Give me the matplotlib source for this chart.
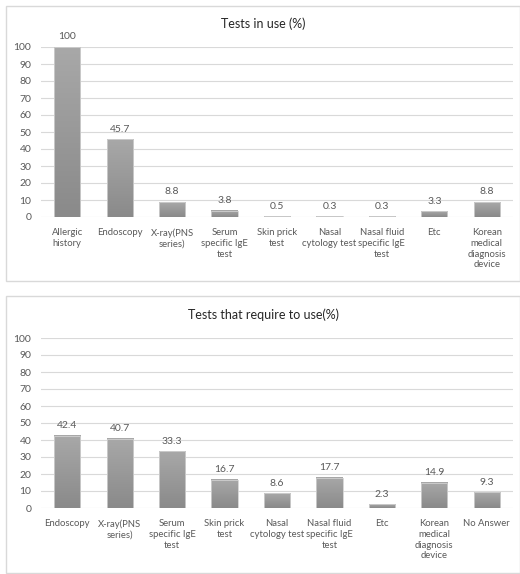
import numpy as np
import matplotlib.pyplot as plt
from matplotlib.patches import Rectangle
from matplotlib.colors import LinearSegmentedColormap

plt.rcParams['font.family'] = ['Lato', 'DejaVu Sans']

# Tests currently in use
use_labels = ['Allergic\nhistory', 'Endoscopy', 'X-ray(PNS\nseries)',
              'Serum\nspecific IgE\ntest', 'Skin prick\ntest',
              'Nasal\ncytology test', 'Nasal fluid\nspecific IgE\ntest',
              'Etc', 'Korean\nmedical\ndiagnosis\ndevice']
use_values = [100, 45.7, 8.8, 3.8, 0.5, 0.3, 0.3, 3.3, 8.8]

# Tests that respondents would like to use
req_labels = ['Endoscopy', 'X-ray(PNS\nseries)', 'Serum\nspecific IgE\ntest',
              'Skin prick\ntest', 'Nasal\ncytology test',
              'Nasal fluid\nspecific IgE\ntest', 'Etc',
              'Korean\nmedical\ndiagnosis\ndevice', 'No Answer']
req_values = [42.4, 40.7, 33.3, 16.7, 8.6, 17.7, 2.3, 14.9, 9.3]

yticks = list(range(0, 101, 10))

W, H = 520, 574
fig = plt.figure(figsize=(W / 100, H / 100), dpi=100)

text_col = '#595959'
grid_col = '#d9d9d9'
grad = LinearSegmentedColormap.from_list('bar', ['#8a8a8a', '#a8a8a8'])
ramp = np.linspace(0, 1, 64).reshape(-1, 1)


def panel_box(top, bottom):
    fig.patches.append(Rectangle((6 / W, 1 - bottom / H), (W - 6) / W,
                                 (bottom - top) / H, transform=fig.transFigure,
                                 fill=False, edgecolor='#d9d9d9', lw=1.0))


def draw_panel(zero_px, title, title_px, labels, values):
    ax = fig.add_axes([41 / W, 1 - zero_px / H, 472 / W, 170 / H])
    n = len(values)
    ax.set_xlim(-0.5, n - 0.5)
    ax.set_ylim(0, 100)
    bw = 0.5
    for i, v in enumerate(values):
        ax.imshow(ramp, cmap=grad, origin='lower', aspect='auto',
                  extent=(i - bw / 2, i + bw / 2, 0, v), zorder=3)
        ax.add_patch(Rectangle((i - bw / 2, 0), bw, v, fill=False,
                               edgecolor='#d0d0d0', lw=0.6, zorder=4))
        ax.annotate(f'{v:g}', (i, v), xytext=(0, 4), textcoords='offset points',
                    ha='center', va='bottom', fontsize=7.5, color=text_col,
                    annotation_clip=False)
    ax.set_xlim(-0.5, n - 0.5)
    ax.set_ylim(0, 100)
    ax.set_yticks(yticks)
    ax.set_xticks(range(n))
    ax.set_xticklabels(labels, fontsize=6.8, color=text_col, linespacing=1.25,
                       va='top')
    ax.tick_params(axis='y', length=0, pad=7, labelsize=7.5, labelcolor=text_col)
    ax.tick_params(axis='x', length=0, pad=8)
    ax.yaxis.grid(True, color=grid_col, lw=0.8, zorder=0)
    ax.set_axisbelow(True)
    for s in ax.spines.values():
        s.set_visible(False)
    fig.text(0.5 + 3 / W, 1 - title_px / H, title, ha='center', va='center',
             fontsize=9, color='#262626')
    return ax


panel_box(6, 281)
panel_box(296, 573)
draw_panel(217, 'Tests in use (%)', 24, use_labels, use_values)
draw_panel(508, 'Tests that require to use(%)', 315, req_labels, req_values)

fig.savefig('out.png', dpi=100, facecolor='white')
